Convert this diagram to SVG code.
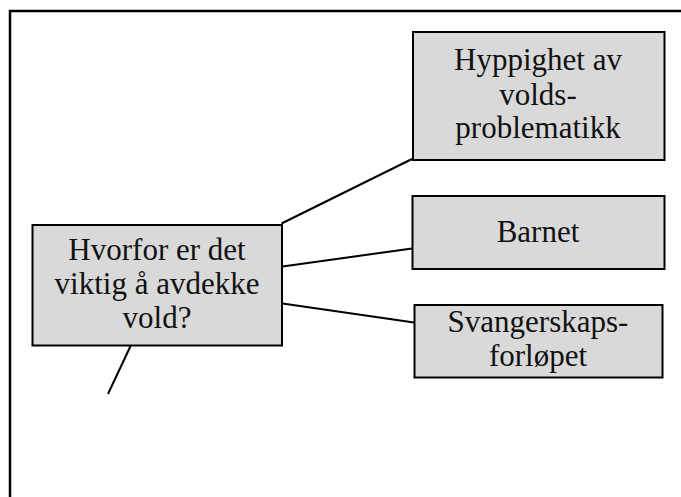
<svg xmlns="http://www.w3.org/2000/svg" width="681" height="497" viewBox="0 0 681 497">
  <style>
    .box { fill: #d9d9d9; stroke: #000; stroke-width: 2; }
    .lbl { font-family: "Liberation Serif", "Times New Roman", serif; font-size: 31px; fill: #111; text-anchor: middle; }
    .conn line { stroke: #000; stroke-width: 2; }
    .frame { stroke: #000; stroke-width: 2.5; fill: none; }
  </style>
  <rect width="681" height="497" fill="#fff"/>
  <path class="frame" d="M10,497 V11 H681"/>
  <g id="connectors" class="conn">
    <line x1="281.5" y1="223.5" x2="412" y2="159"/>
    <line x1="282.5" y1="266.5" x2="412" y2="248.5"/>
    <line x1="282.5" y1="303.5" x2="414" y2="322.5"/>
    <line x1="131" y1="345" x2="108" y2="394"/>
  </g>
  <g id="node-main">
    <rect class="box" x="32.5" y="225" width="249.5" height="120.5"/>
    <text class="lbl" x="157" y="260">Hvorfor er det</text>
    <text class="lbl" x="157" y="294">viktig å avdekke</text>
    <text class="lbl" x="157" y="328">vold?</text>
  </g>
  <g id="node-hyppighet">
    <rect class="box" x="413" y="32" width="251.5" height="128"/>
    <text class="lbl" x="538" y="70">Hyppighet av</text>
    <text class="lbl" x="538" y="105">volds-</text>
    <text class="lbl" x="538" y="137.5">problematikk</text>
  </g>
  <g id="node-barnet">
    <rect class="box" x="412.5" y="196" width="252" height="73"/>
    <text class="lbl" x="538" y="241.5">Barnet</text>
  </g>
  <g id="node-svangerskap">
    <rect class="box" x="414.5" y="305" width="248" height="72.5"/>
    <text class="lbl" x="538" y="331.5">Svangerskaps-</text>
    <text class="lbl" x="538" y="365.5">forløpet</text>
  </g>
</svg>
